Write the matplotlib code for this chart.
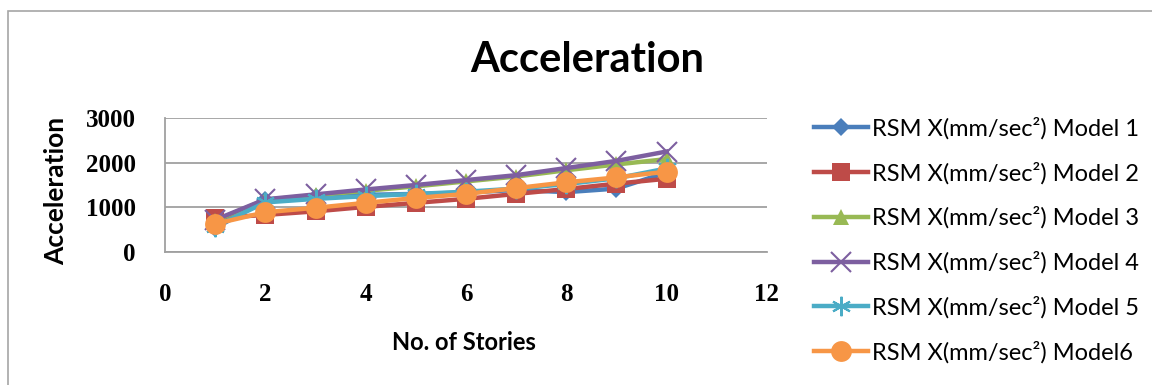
import matplotlib
matplotlib.use("Agg")
import matplotlib.pyplot as plt
from matplotlib.patches import Rectangle

# storey numbers and peak acceleration (mm/sec^2) for each model
stories = [1, 2, 3, 4, 5, 6, 7, 8, 9, 10]
model1 = [530, 1170, 1240, 1280, 1300, 1330, 1390, 1340, 1420, 1780]
model2 = [760, 830, 910, 1010, 1100, 1190, 1300, 1410, 1530, 1640]
model3 = [700, 1170, 1270, 1370, 1470, 1580, 1690, 1830, 1960, 2080]
model4 = [720, 1180, 1290, 1400, 1500, 1610, 1720, 1880, 2040, 2250]
model5 = [570, 1110, 1190, 1250, 1300, 1350, 1420, 1520, 1650, 1870]
model6 = [630, 890, 990, 1100, 1210, 1300, 1430, 1560, 1670, 1800]

labels = ["RSM X(mm/sec\u00b2) Model 1", "RSM X(mm/sec\u00b2) Model 2",
          "RSM X(mm/sec\u00b2) Model 3", "RSM X(mm/sec\u00b2) Model 4",
          "RSM X(mm/sec\u00b2) Model 5", "RSM X(mm/sec\u00b2) Model6"]

series = [model1, model2, model3, model4, model5, model6]
colors = ["#4A7EBB", "#BE4B48", "#98B954", "#7D5FA0", "#4BACC6", "#F79646"]
markers = ["D", "s", "^", "x", (6, 2, 0), "o"]
msizes = [9, 13, 12, 14, 14, 15]

W, H = 1152, 385
fig = plt.figure(figsize=(W / 100, H / 100), dpi=100)
# outer chart border
fig.patches.append(Rectangle((8 / W, -0.1), 1.2, (H - 11) / H + 0.1,
                             transform=fig.transFigure, fill=False,
                             edgecolor="#A6A6A6", linewidth=1.2))

ax = fig.add_axes([165 / W, 1 - 252 / H, (767 - 165) / W, (252 - 118) / H])

handles = []
for i, vals in enumerate(series):
    mk = markers[i]
    ln, = ax.plot(stories, vals, color=colors[i], linewidth=3.2,
                  marker=mk, markersize=msizes[i],
                  markeredgewidth=1.5 if mk in ("x", (6, 2, 0)) else 0,
                  markeredgecolor=colors[i], zorder=3 + i, clip_on=False)
    handles.append(ln)

ax.set_xlim(0, 12)
ax.set_ylim(0, 3000)
ax.set_xticks(range(0, 13, 2))
ax.set_yticks([0, 1000, 2000, 3000])
ax.yaxis.grid(True, color="#A0A0A0", linewidth=1.3)
ax.set_axisbelow(True)
for s in ["top", "right"]:
    ax.spines[s].set_visible(False)
for s in ["left", "bottom"]:
    ax.spines[s].set_color("#A0A0A0")
    ax.spines[s].set_linewidth(1.3)
ax.tick_params(length=0)
ax.tick_params(axis="y", pad=21)
ax.tick_params(axis="x", pad=22)
ax.set_xticklabels([str(v) for v in range(0, 13, 2)], fontsize=18,
                   family="Liberation Serif", fontweight="bold")
ax.set_yticklabels(["0", "1000", "2000", "3000"], fontsize=18,
                   family="Liberation Serif", fontweight="bold")

# axis titles
fig.text(56 / W, 1 - 191 / H, "Acceleration", rotation=90, ha="center", va="center",
         fontsize=19, fontweight="bold", family="Lato")
fig.text(464 / W, 1 - 343 / H, "No. of Stories", ha="center", va="center",
         fontsize=17, fontweight="bold", family="Lato")

fig.text(587 / W, 1 - 60 / H, "Acceleration", ha="center", va="center",
         fontsize=30, fontweight="bold", family="Lato")

fig.legend(handles, labels, loc="upper left", bbox_to_anchor=(802 / W, 1 - 105 / H),
           frameon=False, prop={"family": "Lato", "size": 17},
           handlelength=2.3, handletextpad=0.15, labelspacing=0.95, borderpad=0)

fig.savefig("out.png", dpi=100)
